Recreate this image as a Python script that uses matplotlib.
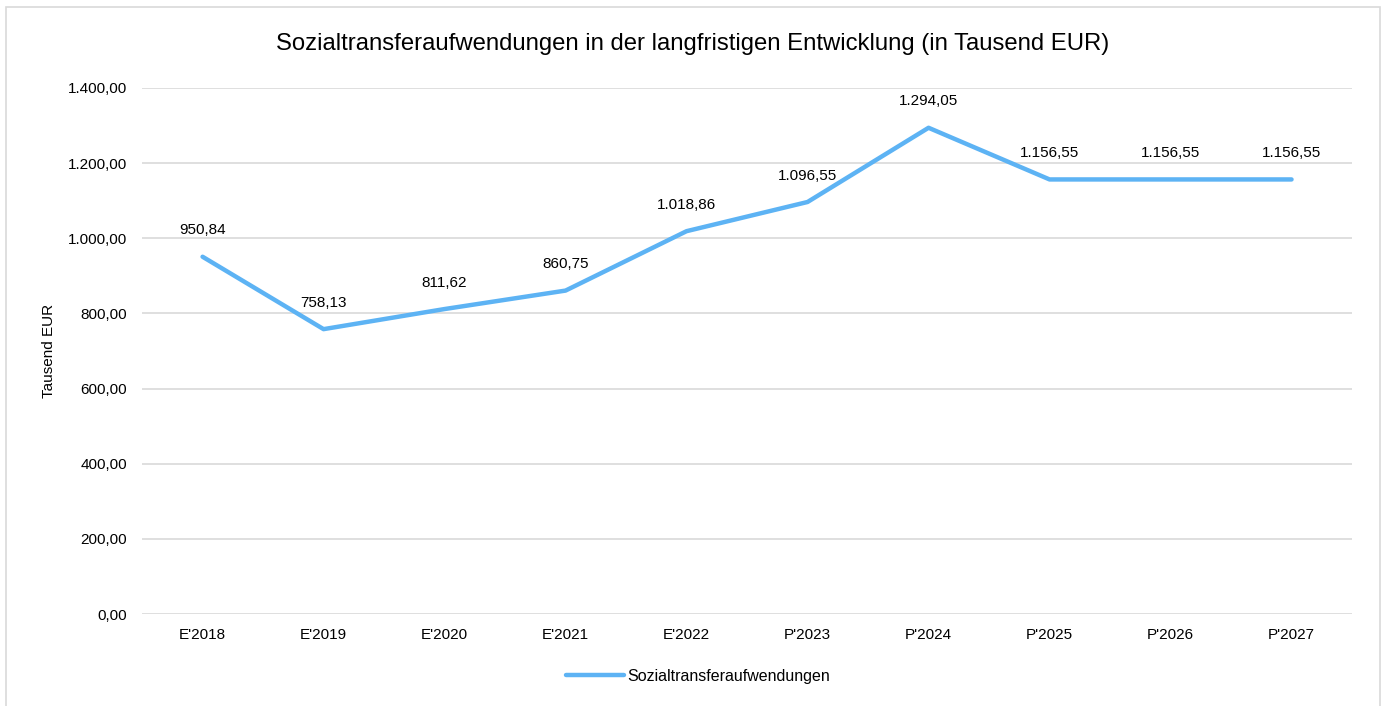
import matplotlib.pyplot as plt
from matplotlib.patches import Rectangle

plt.rcParams['font.family'] = ['Liberation Sans', 'DejaVu Sans']

years = ["E'2018", "E'2019", "E'2020", "E'2021", "E'2022",
         "P'2023", "P'2024", "P'2025", "P'2026", "P'2027"]
values = [950.84, 758.13, 811.62, 860.75, 1018.86,
          1096.55, 1294.05, 1156.55, 1156.55, 1156.55]
series_name = 'Sozialtransferaufwendungen'
line_color = '#5DB3F4'


def de_fmt(v):
    s = '{:,.2f}'.format(v)
    return s.replace(',', 'X').replace('.', ',').replace('X', '.')


fig = plt.figure(figsize=(13.86, 7.06), dpi=100)
ax = fig.add_axes([0.1025, 0.1303, 0.8730, 0.7451])

x = list(range(len(years)))
ax.plot(x, values, color=line_color, linewidth=3.2, solid_capstyle='round',
        solid_joinstyle='round', label=series_name, zorder=3)

for xi, v in zip(x, values):
    ax.annotate(de_fmt(v), (xi, v), xytext=(0, 14), textcoords='offset points',
                ha='center', va='bottom', fontsize=11, color='#000000')

ax.set_xlim(-0.5, len(years) - 0.5)
ax.set_ylim(0, 1400)
ax.set_yticks(range(0, 1401, 200))
ax.set_yticklabels([de_fmt(t) for t in range(0, 1401, 200)], fontsize=11)
ax.set_xticks(x)
ax.set_xticklabels(years, fontsize=11)
ax.tick_params(length=0, pad=11)
ax.tick_params(axis='x', pad=10)
ax.grid(axis='y', color='#D9D9D9', linewidth=1.2)
ax.set_axisbelow(True)
for s in ax.spines.values():
    s.set_visible(False)

ax.set_ylabel('Tausend EUR', fontsize=11, labelpad=8)
fig.text(0.5, 0.937, 'Sozialtransferaufwendungen in der langfristigen Entwicklung (in Tausend EUR)',
         ha='center', va='center', fontsize=17.2)

ax.legend(loc='center', bbox_to_anchor=(0.4595, -0.118), frameon=False, fontsize=11.5,
          handlelength=3.6, handletextpad=0.2)

fig.patches.append(Rectangle((6 / 1386, -0.1), 1374 / 1386, 1.1 - 7 / 706,
                             transform=fig.transFigure, fill=False,
                             edgecolor='#D9D9D9', linewidth=1.2))

fig.savefig('out.png', dpi=100)
